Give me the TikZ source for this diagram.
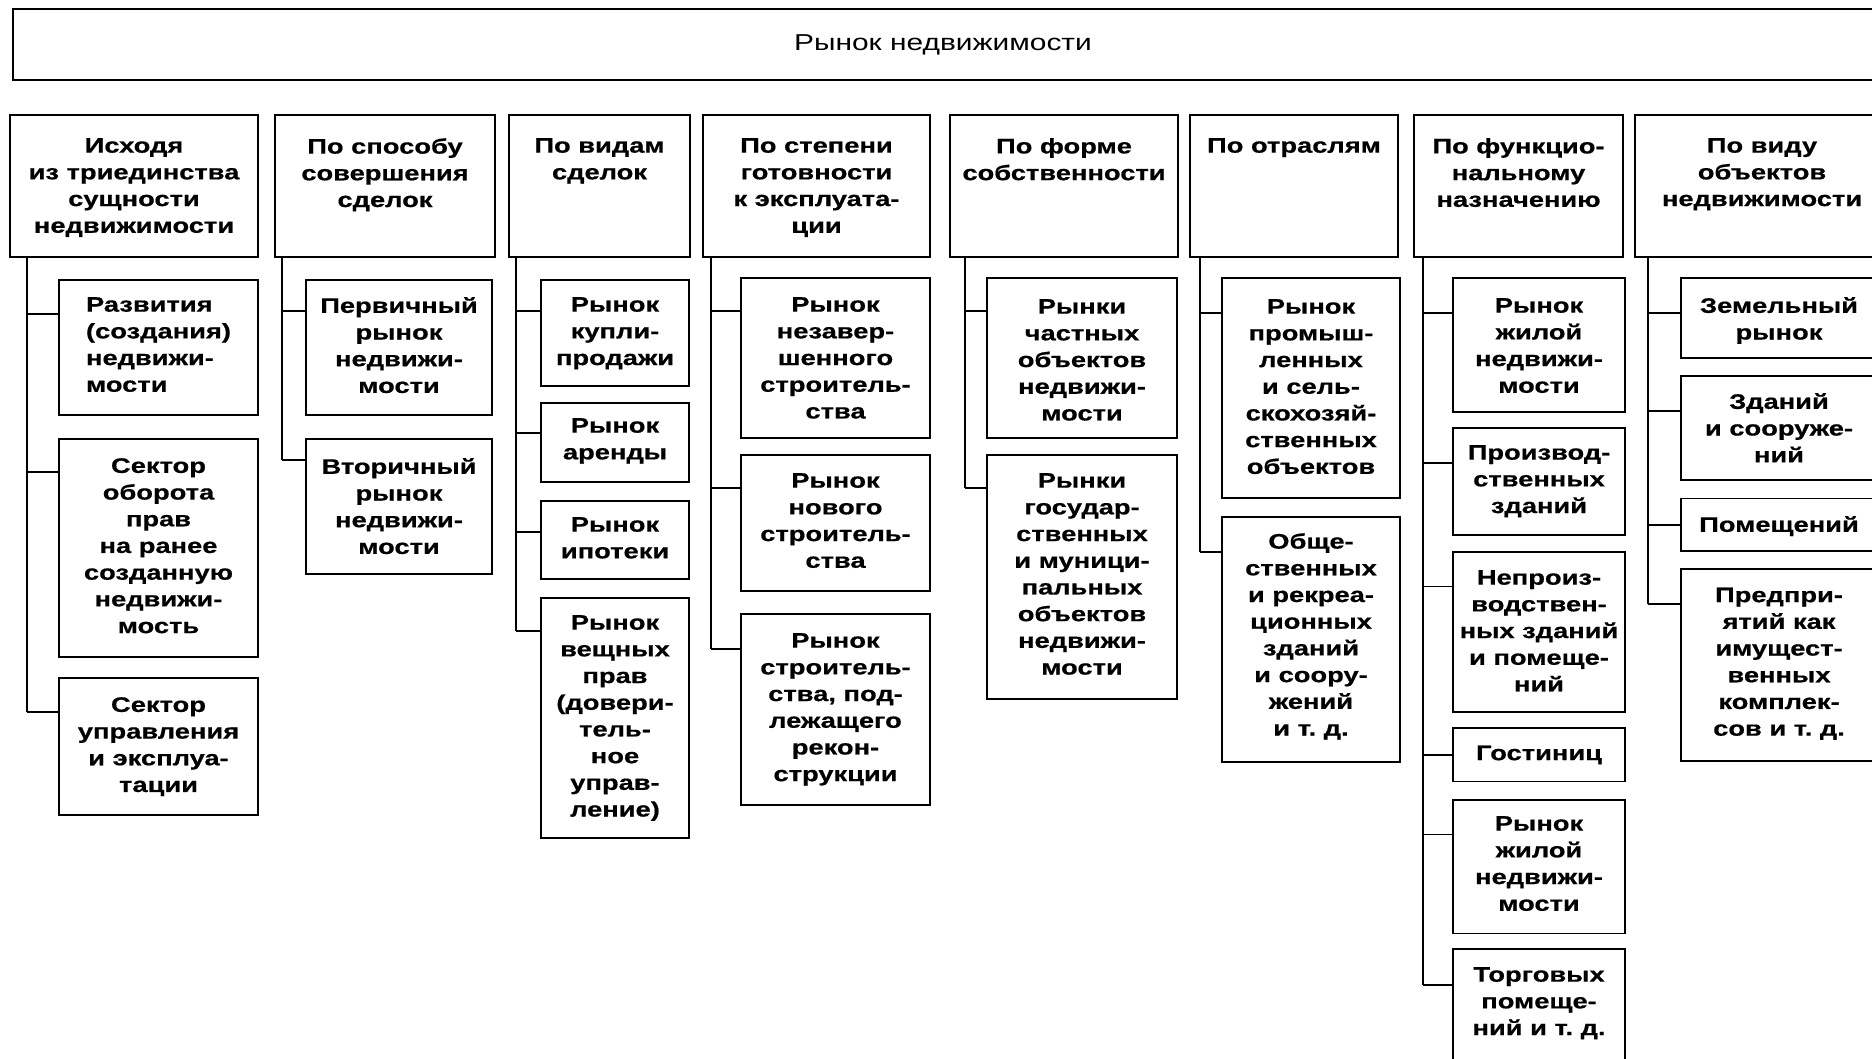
\documentclass[tikz,border=0pt]{standalone}
\usepackage{fontspec}
\newfontfamily\pf[FakeStretch=1.3, BoldFeatures={FakeBold=0.6}]{Liberation Sans}
\usetikzlibrary{calc}
\tikzset{
  box/.style={draw, line width=1.7pt, inner sep=0pt, outer sep=0pt, anchor=north west},
  txt/.style={inner sep=0pt, anchor=north, align=center, font=\pf\bfseries\fontsize{21}{26.7}\selectfont},
  conn/.style={line width=1.3pt},
}
% box: name, x1, y1, x2, y2
\newcommand\bx[5]{\node[box, minimum width={(#4)-(#2)}, minimum height={(#5)-(#3)}] (#1) at (#2,#3) {};}
% header: name, x1, x2, gap, text
\newcommand\hd[5]{\bx{#1}{#2}{115}{#3}{257}\node[txt] (#1t) at ($(#1.north)+(0,#4)$) {#5};}
% child: name, trunk, x1, y1, x2, y2, gap, conn offset, text
\newcommand\ch[9]{\bx{#1}{#3}{#4}{#5}{#6}%
  \node[txt] (#1t) at ($(#1.north)+(0,#7)$) {#9};%
  \coordinate (#1c) at ($(#1.north west)+(0,#8)$);%
  \draw[conn] (#2 |- #1c) -- (#1c);}
\begin{document}
\begin{tikzpicture}[x=1pt,y=-1pt]
\useasboundingbox (0,0) rectangle (1872,1058);
\clip (0,0) rectangle (1872,1058);
\fill[white] (0,0) rectangle (1872,1058);

% title
\node[box, line width=2.2pt, minimum width=1860, minimum height=71] (T) at (13,9) {};
\node[inner sep=0pt, font=\pf\fontsize{23}{28}\selectfont] (Tt) at (T.center) {Рынок недвижимости};

% headers
\hd{H1}{10}{258}{23}{Исходя\\из триединства\\сущности\\недвижимости}
\hd{H2}{275}{495}{23}{По способу\\совершения\\сделок}
\hd{H3}{509}{690}{23}{По видам\\сделок}
\hd{H4}{703}{930}{23}{По степени\\готовности\\к эксплуата-\\ции}
\hd{H5}{950}{1178}{23}{По форме\\собственности}
\hd{H6}{1190}{1398}{23}{По отраслям}
\hd{H7}{1414}{1623}{23}{По функцио-\\нальному\\назначению}
\hd{H8}{1635}{1889}{23}{По виду\\объектов\\недвижимости}

\coordinate (t1) at ($(H1.south west)+(17,0)$);
\coordinate (t2) at ($(H2.south west)+(7,0)$);
\coordinate (t3) at ($(H3.south west)+(7,0)$);
\coordinate (t4) at ($(H4.south west)+(8,0)$);
\coordinate (t5) at ($(H5.south west)+(15,0)$);
\coordinate (t6) at ($(H6.south west)+(10,0)$);
\coordinate (t7) at ($(H7.south west)+(9,0)$);
\coordinate (t8) at ($(H8.south west)+(13,0)$);

% column 1
\begin{scope}[txt/.append style={align=left}]
\ch{A1}{t1}{59}{280}{258}{415}{17}{34}{Развития\\(создания)\\недвижи-\\мости}
\end{scope}
\ch{A2}{t1}{59}{439}{258}{657}{19}{33}{Сектор\\оборота\\прав\\на ранее\\созданную\\недвижи-\\мость}
\ch{A3}{t1}{59}{678}{258}{815}{19}{34}{Сектор\\управления\\и эксплуа-\\тации}
\draw[conn] (t1) -- (t1 |- A3c);

% column 2
\ch{B1}{t2}{306}{280}{492}{415}{17}{31}{Первичный\\рынок\\недвижи-\\мости}
\ch{B2}{t2}{306}{439}{492}{574}{19}{21}{Вторичный\\рынок\\недвижи-\\мости}
\draw[conn] (t2) -- (t2 |- B2c);

% column 3
\ch{C1}{t3}{541}{280}{689}{386}{17}{31}{Рынок\\купли-\\продажи}
\ch{C2}{t3}{541}{403}{689}{482}{15}{30}{Рынок\\аренды}
\ch{C3}{t3}{541}{501}{689}{579}{16}{31}{Рынок\\ипотеки}
\ch{C4}{t3}{541}{598}{689}{838}{17}{33}{Рынок\\вещных\\прав\\(довери-\\тель-\\ное\\управ-\\ление)}
\draw[conn] (t3) -- (t3 |- C4c);

% column 4
\ch{D1}{t4}{741}{278}{930}{438}{19}{33}{Рынок\\незавер-\\шенного\\строитель-\\ства}
\ch{D2}{t4}{741}{455}{930}{591}{18}{33}{Рынок\\нового\\строитель-\\ства}
\ch{D3}{t4}{741}{614}{930}{805}{19}{35}{Рынок\\строитель-\\ства, под-\\лежащего\\рекон-\\струкции}
\draw[conn] (t4) -- (t4 |- D3c);

% column 5
\ch{E1}{t5}{987}{278}{1177}{438}{21}{33}{Рынки\\частных\\объектов\\недвижи-\\мости}
\ch{E2}{t5}{987}{455}{1177}{699}{18}{33}{Рынки\\государ-\\ственных\\и муници-\\пальных\\объектов\\недвижи-\\мости}
\draw[conn] (t5) -- (t5 |- E2c);

% column 6
\ch{F1}{t6}{1222}{278}{1400}{498}{21}{35}{Рынок\\промыш-\\ленных\\и сель-\\скохозяй-\\ственных\\объектов}
\ch{F2}{t6}{1222}{517}{1400}{762}{16}{35}{Обще-\\ственных\\и рекреа-\\ционных\\зданий\\и соору-\\жений\\и т.~д.}
\draw[conn] (t6) -- (t6 |- F2c);

% column 7
\ch{G1}{t7}{1453}{278}{1625}{412}{20}{35}{Рынок\\жилой\\недвижи-\\мости}
\ch{G2}{t7}{1453}{428}{1625}{535}{17}{35}{Производ-\\ственных\\зданий}
\ch{G3}{t7}{1453}{552}{1625}{712}{18}{34.5}{Непроиз-\\водствен-\\ных зданий\\и помеще-\\ний}
\ch{G4}{t7}{1453}{728}{1625}{781.5}{17.5}{27}{Гостиниц}
\ch{G5}{t7}{1453}{800}{1625}{933.5}{16}{34.6}{Рынок\\жилой\\недвижи-\\мости}
\ch{G6}{t7}{1453}{949}{1625}{1066}{18}{36}{Торговых\\помеще-\\ний и т.~д.}
\draw[conn] (t7) -- (t7 |- G6c);

% column 8
\ch{K1}{t8}{1681}{278}{1877}{358}{19}{35}{Земельный\\рынок}
\ch{K2}{t8}{1681}{376}{1877}{480}{17}{35}{Зданий\\и сооруже-\\ний}
\ch{K3}{t8}{1681}{498.5}{1877}{551}{17.5}{26.5}{Помещений}
\ch{K4}{t8}{1681}{569}{1877}{761}{18.5}{35}{Предпри-\\ятий как\\имущест-\\венных\\комплек-\\сов и т.~д.}
\draw[conn] (t8) -- (t8 |- K4c);
\end{tikzpicture}
\end{document}
